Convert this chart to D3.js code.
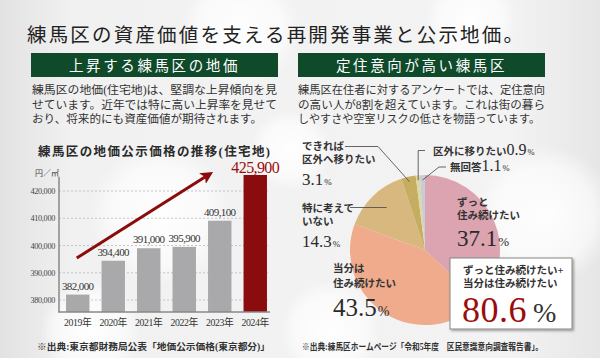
<!DOCTYPE html>
<html><head><meta charset="utf-8">
<script src="https://cdn.jsdelivr.net/npm/d3@7"></script>
<style>
html,body{margin:0;padding:0;background:#f2f2f2;}
svg{display:block;}
text{font-family:"Liberation Serif","Noto Sans CJK JP",serif;}
</style></head>
<body><svg id="c" width="600" height="358"></svg>
<script>
// ---- data ----
const years = ["2019年","2020年","2021年","2022年","2023年","2024年"];
const barValues = [382000, 394400, 399000, 399500, 409100, 425900];
const barLabels = ["382,000","394,400","391,000","395,900","409,100","425,900"];
const yTicks = [380000, 390000, 400000, 410000, 420000];
const yTickLabels = ["380,000","390,000","400,000","410,000","420,000"];

const pieNames = ["ずっと住み続けたい","当分は住み続けたい","特に考えていない","できれば区外へ移りたい","区外に移りたい","無回答"];
const pieValues = [37.1, 43.5, 14.3, 3.1, 0.9, 1.1];
const pieColors = ["#dca4b1","#efab8b","#d8b87f","#c5ad62","#dcd8a6","#c9ccd6"];

const title = "練馬区の資産価値を支える再開発事業と公示地価。";
const leftHead = "上昇する練馬区の地価";
const rightHead = "定住意向が高い練馬区";
const leftText = ["練馬区の地価(住宅地)は、堅調な上昇傾向を見","せています。近年では特に高い上昇率を見せて","おり、将来的にも資産価値が期待されます。"];
const rightText = ["練馬区在住者に対するアンケートでは、定住意向","の高い人が8割を超えています。これは街の暮ら","しやすさや空室リスクの低さを物語っています。"];
const chartTitle = "練馬区の地価公示価格の推移(住宅地)";
const leftNote = "※出典:東京都財務局公表「地価公示価格(東京都分)」";
const rightNote = "※出典:練馬区ホームページ「令和5年度　区民意識意向調査報告書」。";

const svg = d3.select("#c");
const defs = svg.append("defs");

// ---- background ----
const bg = defs.append("linearGradient").attr("id","bg").attr("x1",0).attr("x2",1).attr("y1",0).attr("y2",0);
bg.append("stop").attr("offset","0%").attr("stop-color","#e2e2e2");
bg.append("stop").attr("offset","12%").attr("stop-color","#f1f1f1");
bg.append("stop").attr("offset","85%").attr("stop-color","#f3f3f3");
bg.append("stop").attr("offset","100%").attr("stop-color","#e6e6e6");
svg.append("rect").attr("width",600).attr("height",358).attr("fill","url(#bg)");
const blob = defs.append("radialGradient").attr("id","blob");
blob.append("stop").attr("offset","0%").attr("stop-color","#fff").attr("stop-opacity",0.95);
blob.append("stop").attr("offset","70%").attr("stop-color","#fff").attr("stop-opacity",0.6);
blob.append("stop").attr("offset","100%").attr("stop-color","#fff").attr("stop-opacity",0);
[[240,30,60],[470,20,45],[160,215,70],[545,215,70],[330,330,50],[90,330,50],[290,150,40]].forEach(b=>{
  svg.append("circle").attr("cx",b[0]).attr("cy",b[1]).attr("r",b[2]).attr("fill","url(#blob)");
});

// ---- title ----
svg.append("text").attr("x",27).attr("y",42).attr("font-size",19.5).attr("fill","#222")
  .attr("textLength",496).attr("lengthAdjust","spacing").text(title);

// ---- headers ----
function header(x, w, txt){
  svg.append("rect").attr("x",x).attr("y",53).attr("width",w).attr("height",24).attr("fill","#0f4a2b");
  svg.append("text").attr("x",x+w/2).attr("y",70.5).attr("text-anchor","middle").attr("font-size",14.5)
    .attr("fill","#fff").attr("letter-spacing",2.6).text(txt);
}
header(31, 247, leftHead);
header(298, 247, rightHead);

function para(x, lines, widths){
  lines.forEach((l,i)=>{
    svg.append("text").attr("x",x).attr("y",94+i*14.5).attr("font-size",11.5).attr("fill","#333")
      .attr("textLength",widths[i]).attr("lengthAdjust","spacingAndGlyphs").text(l);
  });
}
para(32, leftText, [245,245,230]);
para(298, rightText, [247,247,242]);

// ---- bar chart ----
svg.append("text").attr("x",154).attr("y",156).attr("text-anchor","middle").attr("font-size",12.5)
  .attr("fill","#2a2a2a").attr("font-weight","bold").attr("textLength",232).attr("lengthAdjust","spacing").text(chartTitle);

const y = d3.scaleLinear().domain([375600, 430000]).range([312, 163.8]);
const x = d3.scaleBand().domain(years).range([60, 273]).paddingInner(0.34).paddingOuter(0.17);

const g = svg.append("g");
// gridlines
g.selectAll(".grid").data(yTicks).enter().append("line")
  .attr("x1",59).attr("x2",268).attr("y1",d=>y(d)).attr("y2",d=>y(d))
  .attr("stroke","#b9b9b9").attr("stroke-width",0.8).attr("stroke-dasharray","2,2");
// tick labels
g.selectAll(".tl").data(yTicks).enter().append("text")
  .attr("x",55).attr("y",d=>y(d)+3).attr("text-anchor","end").attr("font-size",8.2)
  .attr("letter-spacing",-0.3).attr("fill","#444").text((d,i)=>yTickLabels[i]);
svg.append("text").attr("x",35).attr("y",176).attr("font-size",8).attr("fill","#444").text("円／㎡");

// bars
g.selectAll(".bar").data(barValues).enter().append("rect")
  .attr("x",(d,i)=>x(years[i])).attr("width",x.bandwidth())
  .attr("y",d=>y(d)).attr("height",d=>y(375600)-y(d))
  .attr("fill",(d,i)=>i===5?"#8a0c0c":"#a9a9ab");
// value labels
g.selectAll(".vl").data(barValues).enter().append("text")
  .attr("x",(d,i)=>x(years[i])+x.bandwidth()/2)
  .attr("y",(d,i)=>y(d)-(i===5?2:5))
  .attr("text-anchor","middle")
  .attr("font-size",(d,i)=>i===5?16:11)
  .attr("letter-spacing",-0.6)
  .attr("fill",(d,i)=>i===5?"#9a0d0d":"#333")
  .text((d,i)=>barLabels[i]);
// axes
const axisY = d3.axisLeft(y).tickValues([]).tickSize(0);
svg.append("g").attr("transform","translate(59,0)").call(axisY)
  .call(s=>s.select(".domain").attr("d",`M0,${y(430000)+13}V${y(375600)}`).attr("stroke","#888").attr("stroke-width",1.5));
const axisX = d3.axisBottom(x).tickSize(0).tickPadding(5);
svg.append("g").attr("transform",`translate(0,${y(375600)})`).call(axisX)
  .call(s=>{
    s.select(".domain").attr("d","M58,0H270").attr("stroke","#888").attr("stroke-width",1.5);
    s.selectAll("text").attr("font-size",9.8).attr("fill","#333").attr("letter-spacing",-0.4)
      .attr("font-family",'"Liberation Serif","Noto Sans CJK JP",serif').attr("dy","0.9em");
  });

// arrow
const mk = defs.append("marker").attr("id","ah").attr("viewBox","0 0 10 10").attr("refX",5).attr("refY",5)
  .attr("markerWidth",4.2).attr("markerHeight",4.2).attr("orient","auto");
mk.append("path").attr("d","M0,0L10,5L0,10L2.5,5Z").attr("fill","#8a0c0c");
svg.append("line")
  .attr("x1",x(years[0])+x.bandwidth()/2-1).attr("y1",y(395400))
  .attr("x2",x(years[4])+x.bandwidth()/2-12).attr("y2",y(425800))
  .attr("stroke","#8a0c0c").attr("stroke-width",3).attr("marker-end","url(#ah)");

// ---- pie ----
const cx = 425, cy = 250, R = 75;
const pie = d3.pie().sort(null).value(d=>d)(pieValues);
const arc = d3.arc().innerRadius(0).outerRadius(R);
const pg = svg.append("g").attr("transform",`translate(${cx},${cy})`);
pg.selectAll("path").data(pie).enter().append("path").attr("d",arc)
  .attr("fill",(d,i)=>pieColors[i]);
function pt(i, r){ const a=(pie[i].startAngle+pie[i].endAngle)/2; return [cx+r*Math.sin(a), cy-r*Math.cos(a)]; }

const lc = "#555";
// leaders
let p3 = pt(3, 70);
svg.append("path").attr("d",`M345,146.5H378L${p3[0]},${p3[1]}`).attr("fill","none").attr("stroke",lc).attr("stroke-width",0.9);
let p4 = pt(4, 70);
svg.append("path").attr("d",`M425,150.5H${p4[0]}V${p4[1]}`).attr("fill","none").attr("stroke",lc).attr("stroke-width",0.9);
let p5 = pt(5, 70);
svg.append("path").attr("d",`M446,167H439L${p5[0]},${p5[1]}`).attr("fill","none").attr("stroke",lc).attr("stroke-width",0.9);
let p2 = pt(2, 55);
svg.append("path").attr("d",`M350,207.5H${p2[0]}`).attr("fill","none").attr("stroke",lc).attr("stroke-width",0.9);

function label(x0, y0, lines, num, numSize, pctSize, lh, numGap){
  lines.forEach((l,i)=>svg.append("text").attr("x",x0).attr("y",y0+i*lh).attr("font-size",10.5)
     .attr("font-weight","bold").attr("fill","#333").text(l));
  const t = svg.append("text").attr("x",x0).attr("y",y0+(lines.length-1)*lh+numGap).attr("fill","#2a2a2a");
  t.append("tspan").attr("font-size",numSize).text(num);
  t.append("tspan").attr("font-size",pctSize).attr("dx",1).text("%");
}
label(302, 150, ["できれば","区外へ移りたい"], pieValues[3].toFixed(1), 17, 9, 13, 22);
label(302, 212, ["特に考えて","いない"], pieValues[2].toFixed(1), 17, 9, 13, 22);
label(457, 206, ["ずっと","住み続けたい"], pieValues[0].toFixed(1), 23, 13, 13, 27);
label(333, 272, ["当分は","住み続けたい"], pieValues[1].toFixed(1), 25, 14, 15, 29);
// inline labels
{
  const t = svg.append("text").attr("x",433).attr("y",155).attr("fill","#2a2a2a");
  t.append("tspan").attr("font-size",10.5).attr("font-weight","bold").attr("fill","#333").text("区外に移りたい");
  t.append("tspan").attr("font-size",16).text(pieValues[4].toFixed(1));
  t.append("tspan").attr("font-size",8.5).attr("dx",1).text("%");
  const u = svg.append("text").attr("x",450).attr("y",171).attr("fill","#2a2a2a");
  u.append("tspan").attr("font-size",10.5).attr("font-weight","bold").attr("fill","#333").text("無回答");
  u.append("tspan").attr("font-size",16).text(pieValues[5].toFixed(1));
  u.append("tspan").attr("font-size",8.5).attr("dx",1).text("%");
}

// callout box
const sh = defs.append("filter").attr("id","sh").attr("x","-10%").attr("y","-10%").attr("width","130%").attr("height","130%");
sh.append("feDropShadow").attr("dx",1.5).attr("dy",1.5).attr("stdDeviation",1.2).attr("flood-color","#000").attr("flood-opacity",0.35);
svg.append("rect").attr("x",450).attr("y",258).attr("width",122).attr("height",71).attr("fill","#fff")
  .attr("stroke","#888").attr("stroke-width",1).attr("filter","url(#sh)");
svg.append("text").attr("x",463).attr("y",274).attr("font-size",10.5).attr("font-weight","bold").attr("fill","#333").text("ずっと住み続けたい+");
svg.append("text").attr("x",463).attr("y",287).attr("font-size",10.5).attr("font-weight","bold").attr("fill","#333").text("当分は住み続けたい");
{
  const t = svg.append("text").attr("x",462).attr("y",322);
  t.append("tspan").attr("font-size",36).attr("fill","#9a0d0d").attr("letter-spacing",0.5).text((pieValues[0]+pieValues[1]).toFixed(1));
  t.append("tspan").attr("font-size",28).attr("fill","#333").attr("dx",6).text("%");
}

// footnotes
svg.append("text").attr("x",37).attr("y",350).attr("font-size",9.5).attr("font-weight","bold").attr("fill","#333")
  .attr("textLength",233).attr("lengthAdjust","spacingAndGlyphs").text(leftNote);
svg.append("text").attr("x",302).attr("y",350).attr("font-size",9.5).attr("font-weight","bold").attr("fill","#333")
  .attr("textLength",241).attr("lengthAdjust","spacingAndGlyphs").text(rightNote);
</script></body></html>
